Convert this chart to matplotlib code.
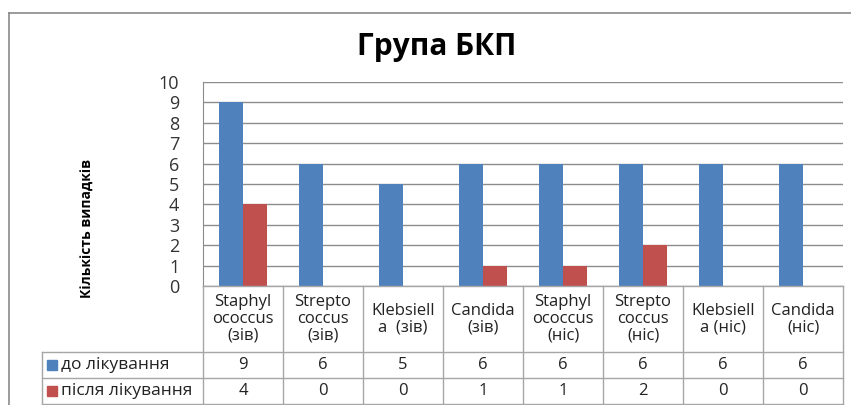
import matplotlib.pyplot as plt
from matplotlib.lines import Line2D
from matplotlib.patches import Rectangle
import matplotlib.transforms as mtransforms
import numpy as np

plt.rcParams['font.family'] = ['Open Sans', 'DejaVu Sans']

categories = ["Staphyl\nococcus\n(зів)", "Strepto\ncoccus\n(зів)", "Klebsiell\na  (зів)",
              "Candida\n(зів)", "Staphyl\nococcus\n(ніс)", "Strepto\ncoccus\n(ніс)",
              "Klebsiell\na (ніс)", "Candida\n(ніс)"]
before = [9, 6, 5, 6, 6, 6, 6, 6]
after = [4, 0, 0, 1, 1, 2, 0, 0]
series_names = ["до лікування", "після лікування"]
colors = ["#4F81BD", "#C0504D"]

W, H = 851, 405
fig = plt.figure(figsize=(W / 100, H / 100), dpi=100)

def fy(py):
    # pixel row from the top -> figure fraction
    return 1 - py / H

ax = fig.add_axes([203 / W, fy(286), 640 / W, (286 - 82) / H])

x = np.arange(len(categories))
w = 0.3
ax.bar(x - w / 2, before, w, color=colors[0], zorder=3)
ax.bar(x + w / 2, after, w, color=colors[1], zorder=3)

ax.set_xlim(-0.5, len(categories) - 0.5)
ax.set_ylim(0, 10)
ax.set_yticks(range(0, 11))
ax.tick_params(axis='y', length=0, pad=17, labelsize=13, colors='#333333')
ax.set_xticks([])
ax.grid(axis='y', color='#8c8c8c', linewidth=1, zorder=0)
for side in ['top', 'right', 'bottom']:
    ax.spines[side].set_visible(False)
ax.spines['left'].set_color('#8c8c8c')

fig.text(437 / W, fy(47), "Група БКП", ha='center', va='center',
         fontsize=21.5, fontweight='bold')
fig.text(88 / W, fy(228), "Кількість випадків", rotation=90, ha='center',
         va='center', fontsize=10, fontweight='bold')

# outer chart frame
frame_c = '#8a8a8a'
fig.add_artist(Line2D([9 / W, 1], [fy(13), fy(13)], color=frame_c, lw=1.2))
fig.add_artist(Line2D([9 / W, 9 / W], [fy(13), 0], color=frame_c, lw=1.2))

# data table under the plot
tr = mtransforms.blended_transform_factory(ax.transData, fig.transFigure)
grid_c = '#a6a6a6'
left_px = 42 / W
for py in [286, 352, 378, 404]:
    fig.add_artist(Line2D([203 / W if py == 286 else left_px, 843 / W],
                          [fy(py), fy(py)], color=grid_c, lw=1))
for k in range(len(categories) + 1):
    ax.plot([k - 0.5, k - 0.5], [fy(286), fy(404)], color=grid_c, lw=1,
            transform=tr, clip_on=False)
fig.add_artist(Line2D([left_px, left_px], [fy(352), fy(404)], color=grid_c, lw=1))

for i, lab in enumerate(categories):
    ax.text(i, fy(319), lab, transform=tr, ha='center', va='center',
            fontsize=12, linespacing=1.05, color='#222222')
    ax.text(i, fy(365), str(before[i]), transform=tr, ha='center',
            va='center', fontsize=12, color='#222222')
    ax.text(i, fy(391), str(after[i]), transform=tr, ha='center',
            va='center', fontsize=12, color='#222222')

for row_y, name, c in zip([365, 391], series_names, colors):
    fig.add_artist(Rectangle((47 / W, fy(row_y + 5)), 10 / W, 10 / H,
                             color=c, transform=fig.transFigure))
    fig.text(61 / W, fy(row_y), name, ha='left', va='center', fontsize=12.5,
             color='#222222')

fig.savefig('out.png', dpi=100)
